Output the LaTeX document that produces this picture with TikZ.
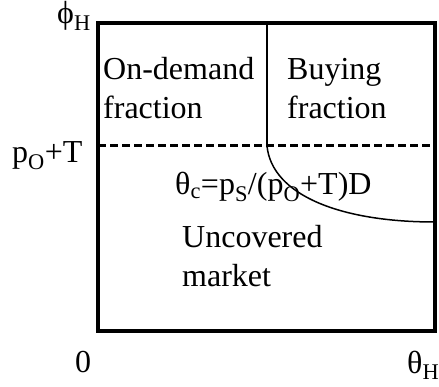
\documentclass[tikz,border=0pt]{standalone}
\usepackage{fontspec}
\setmainfont{Liberation Serif}
\usetikzlibrary{positioning}
\tikzset{
  lbl/.style={font=\fontsize{32}{39}\selectfont, inner sep=0pt, anchor=base west, align=left},
  frame/.style={line width=4pt},
  divider/.style={line width=1.5pt},
  bound/.style={line width=3pt, dash pattern=on 8pt off 4pt},
}

\begin{document}
\begin{tikzpicture}[x=1pt,y=-1pt]
\useasboundingbox (0,0) rectangle (439,387);
\coordinate (ll) at (98,331);
\coordinate (ur) at (435,23);
\coordinate (split) at (267,23);
\coordinate (cut) at (267,146);
\coordinate (tail) at (435,222);
% market square
\draw[frame] (ll) rectangle (ur);
\draw[bound] (98,146) -- (435,146);
\draw[divider] (split) -- (cut);
\draw[divider] (cut) .. controls (272,195) and (340,222) .. (tail);
% region labels (base = last line)
\node[lbl] (ondemand) at (103,119) {On-demand\\fraction};
\node[lbl] (buying) at (287,119) {Buying\\fraction};
\node[lbl] (thetac) at (175,195) {θ\textsubscript{c}=p\textsubscript{S}/(p\textsubscript{O}+T)D};
\node[lbl] (uncovered) at (182,287) {Uncovered\\market};
% axis labels
\node[lbl] (phiH) at (57,24) {ϕ\textsubscript{H}};
\node[lbl] (poT) at (12,163) {p\textsubscript{O}+T};
\node[lbl] (zero) at (75,372) {0};
\node[lbl] (thetaH) at (407,373) {θ\textsubscript{H}};
\end{tikzpicture}
\end{document}
